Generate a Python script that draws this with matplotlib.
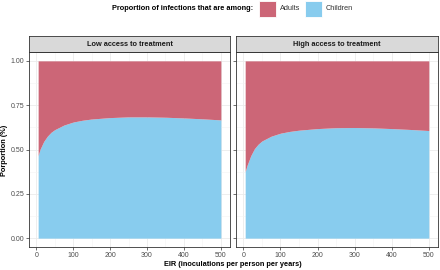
#!/usr/bin/env python3
import matplotlib

matplotlib.use("Agg", force=True)
import matplotlib.pyplot as plt
from matplotlib.patches import Rectangle
from matplotlib.ticker import FormatStrFormatter, MultipleLocator

# EIR grid (inoculations per person per year)
eir = [5, 10, 20, 30, 40, 50, 75, 100, 125, 150, 200, 250, 300, 350, 400, 450, 500]
# proportion of infections among children
children_low = [0.465, 0.50, 0.545, 0.575, 0.597, 0.612, 0.638, 0.655, 0.665, 0.672,
                0.680, 0.684, 0.684, 0.682, 0.678, 0.673, 0.667]
children_high = [0.375, 0.41, 0.465, 0.505, 0.530, 0.548, 0.575, 0.592, 0.602, 0.609,
                 0.618, 0.623, 0.624, 0.622, 0.618, 0.613, 0.607]
panel_titles = ["Low access to treatment", "High access to treatment"]
groups = ["Adults", "Children"]

COLORS = {"Adults": "#CC6677", "Children": "#88CCEE"}
GRID = "#EBEBEB"
BORDER = "#333333"

plt.rcParams["font.family"] = ["Liberation Sans", "DejaVu Sans"]

fig = plt.figure(figsize=(4.4, 2.7), dpi=100)
W, H = 440, 270


def frac(x0, y0, x1, y1):
    return [x0 / W, 1 - y1 / H, (x1 - x0) / W, (y1 - y0) / H]


boxes = [(29, 52, 230, 247), (236, 52, 438, 247)]
strip_h = 16

for i, (title, child) in enumerate(zip(panel_titles, [children_low, children_high])):
    x0, y0, x1, y1 = boxes[i]
    ax = fig.add_axes(frac(x0, y0, x1, y1))
    ax.fill_between(eir, 0, child, color=COLORS["Children"], linewidth=0, zorder=2)
    ax.fill_between(eir, child, 1, color=COLORS["Adults"], linewidth=0, zorder=2)
    ax.set_xlim(-19.75, 524.75)
    ax.set_ylim(-0.05, 1.05)
    ax.xaxis.set_major_locator(MultipleLocator(100))
    ax.xaxis.set_minor_locator(MultipleLocator(50))
    ax.yaxis.set_major_locator(MultipleLocator(0.25))
    ax.yaxis.set_minor_locator(MultipleLocator(0.125))
    ax.grid(which="major", color=GRID, linewidth=0.6, zorder=0)
    ax.grid(which="minor", color="#F4F4F4", linewidth=0.4, zorder=0)
    ax.set_axisbelow(True)
    ax.tick_params(which="major", length=2, width=0.5, color="#333333",
                   labelsize=5, labelcolor="#4D4D4D", pad=1.5)
    ax.tick_params(which="minor", length=0)
    ax.yaxis.set_major_formatter(FormatStrFormatter("%.2f"))
    if i == 1:
        ax.tick_params(axis="y", labelleft=False)
    for s in ax.spines.values():
        s.set_color(BORDER)
        s.set_linewidth(0.6)

    sax = fig.add_axes(frac(x0, y0 - strip_h, x1, y0))
    sax.set_xticks([])
    sax.set_yticks([])
    sax.set_facecolor("#D9D9D9")
    for s in sax.spines.values():
        s.set_color(BORDER)
        s.set_linewidth(0.6)
    sax.text(0.5, 0.5, title, ha="center", va="center", fontsize=5.3,
             fontweight="bold", color="#1A1A1A", transform=sax.transAxes)

fig.text(233 / W, 1 - 264 / H, "EIR (inoculations per person per years)",
         ha="center", va="center", fontsize=5.3, fontweight="bold")
fig.text(5 / W, 1 - 150 / H, "Porportion (%)", ha="center", va="center",
         rotation=90, fontsize=5.3, fontweight="bold")

# legend at top
fig.text(253 / W, 1 - 9 / H, "Proportion of infections that are among:",
         ha="right", va="center", fontsize=5.3, fontweight="bold")
key_x = [259, 305]
for g, kx in zip(groups, key_x):
    fig.patches.append(Rectangle((kx / W, 1 - 17 / H), 17 / W, 16 / H,
                                 transform=fig.transFigure, facecolor=COLORS[g],
                                 edgecolor="white", linewidth=0.6))
    fig.text((kx + 21) / W, 1 - 9 / H, g, ha="left", va="center",
             fontsize=5.3, color="#333333")

fig.savefig("out.png", dpi=100)
